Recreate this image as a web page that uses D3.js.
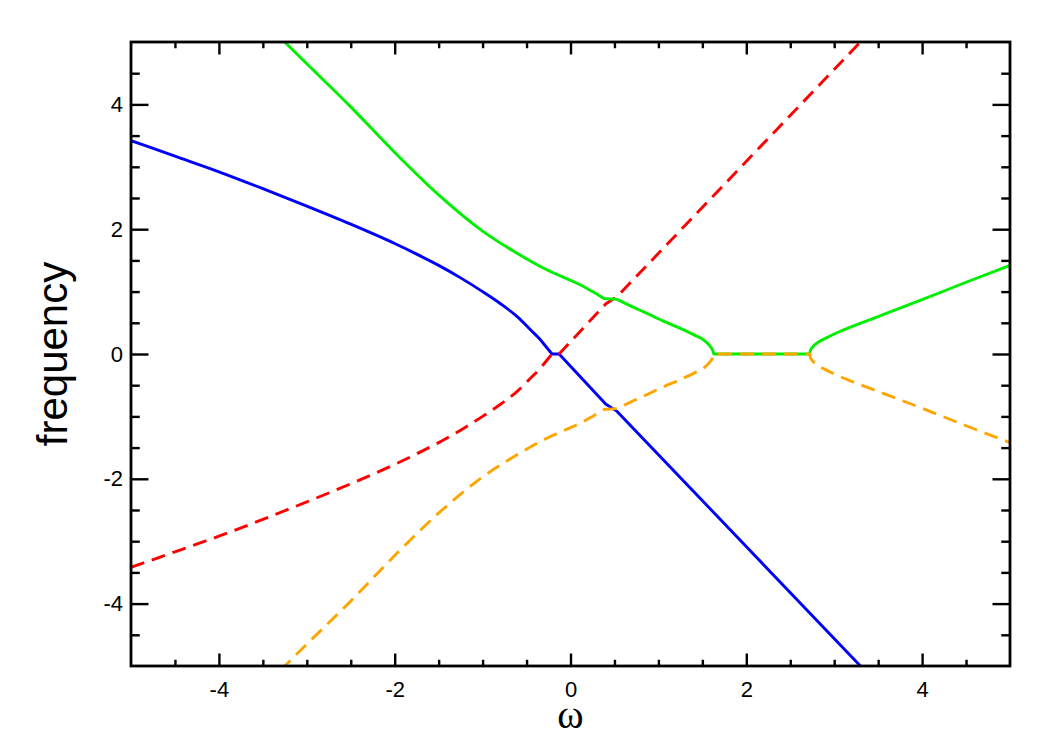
<!DOCTYPE html>
<html>
<head>
<meta charset="utf-8">
<script src="https://cdn.jsdelivr.net/npm/d3@7/dist/d3.min.js"></script>
<style>
	body { margin: 0; background: #fff; }
	text { font-family: "Liberation Sans", Arial, sans-serif; }
</style>
</head>
<body>
<div id="chart"></div>
<script>
// values
var majorTicks = [-4, -2, 0, 2, 4];
var minorTicks = [-4.5, -3.5, -3, -2.5, -1.5, -1, -0.5, 0.5, 1, 1.5, 2.5, 3, 3.5, 4.5];

var blueOmega = [-5.0, -4.5, -4.0, -3.5, -3.0, -2.5, -2.0, -1.75, -1.5, -1.25, -1.0, -0.8, -0.6, -0.45, -0.35, -0.28, -0.21, -0.13, 0.40, 0.53, 3.40];
var blueFreq = [3.42, 3.17, 2.92, 2.65, 2.37, 2.08, 1.77, 1.60, 1.42, 1.22, 1.00, 0.81, 0.59, 0.38, 0.24, 0.12, 0.0, 0.0, -0.80, -0.92, -5.15];

var redOmega = [-5.0, -4.5, -4.0, -3.5, -3.0, -2.5, -2.0, -1.75, -1.5, -1.25, -1.0, -0.8, -0.6, -0.45, -0.35, -0.28, -0.21, -0.13, 0.40, 0.53, 3.40];
var redFreq = [-3.42, -3.17, -2.92, -2.65, -2.37, -2.08, -1.77, -1.60, -1.42, -1.22, -1.00, -0.81, -0.59, -0.38, -0.24, -0.12, 0.0, 0.0, 0.80, 0.92, 5.15];

var greenOmega = [-3.30, -3.0, -2.5, -2.0, -1.5, -1.0, -0.65, -0.27, 0.0, 0.11, 0.25, 0.38, 0.53, 0.7, 0.87, 1.05, 1.25, 1.4, 1.52, 1.59, 1.62, 1.63, 2.72, 2.73, 2.76, 2.82, 2.9, 3.0, 3.2, 3.5, 4.0, 4.5, 5.0];
var greenFreq = [5.07, 4.65, 3.96, 3.23, 2.55, 1.97, 1.65, 1.35, 1.18, 1.11, 1.00, 0.89, 0.875, 0.76, 0.65, 0.53, 0.41, 0.31, 0.22, 0.12, 0.05, 0.0, 0.0, 0.06, 0.12, 0.19, 0.25, 0.32, 0.44, 0.60, 0.87, 1.15, 1.42];

var orangeOmega = [-3.30, -3.0, -2.5, -2.0, -1.5, -1.0, -0.65, -0.27, 0.0, 0.11, 0.25, 0.38, 0.53, 0.7, 0.87, 1.05, 1.25, 1.4, 1.52, 1.59, 1.62, 1.63, 2.72, 2.73, 2.76, 2.82, 2.9, 3.0, 3.2, 3.5, 4.0, 4.5, 5.0];
var orangeFreq = [-5.07, -4.65, -3.96, -3.23, -2.55, -1.97, -1.65, -1.35, -1.18, -1.11, -1.00, -0.89, -0.875, -0.76, -0.65, -0.53, -0.41, -0.31, -0.22, -0.12, -0.05, 0.0, 0.0, -0.06, -0.12, -0.19, -0.25, -0.32, -0.44, -0.60, -0.87, -1.15, -1.42];

// omega values where a curve has a corner (kinks at crossings, ends of the flat parts)
var blueKinks = [-0.21, -0.13, 0.40, 0.53];
var greenKinks = [0.38, 0.53, 1.63, 2.72];

var series = [
	{ omega: blueOmega, freq: blueFreq, kinks: blueKinks, color: "#0000ff", dash: null },
	{ omega: redOmega, freq: redFreq, kinks: blueKinks, color: "#ff0000", dash: "14,8" },
	{ omega: greenOmega, freq: greenFreq, kinks: greenKinks, color: "#00ef00", dash: null },
	{ omega: orangeOmega, freq: orangeFreq, kinks: greenKinks, color: "#ffa500", dash: "14,8" }
];

var W = 1050, H = 750,
	plotLeft = 131, plotRight = 1010, plotTop = 42, plotBottom = 666;

var x = d3.scaleLinear().domain([-5, 5]).range([plotLeft, plotRight]);
var y = d3.scaleLinear().domain([-5, 5]).range([plotBottom, plotTop]);

var svg = d3.select("#chart").append("svg")
	.attr("width", W)
	.attr("height", H);

svg.append("clipPath").attr("id", "clip")
	.append("rect")
	.attr("x", plotLeft).attr("y", plotTop)
	.attr("width", plotRight - plotLeft).attr("height", plotBottom - plotTop);

var line = d3.line()
	.x(d => x(d[0]))
	.y(d => y(d[1]))
	.curve(d3.curveMonotoneX);

// smooth between kinks, sharp corners at them
function kinkedPath(s) {
	var pts = s.omega.map((o, i) => [o, s.freq[i]]);
	var segs = [], cur = [];
	pts.forEach(function(p) {
		cur.push(p);
		if (s.kinks.indexOf(p[0]) >= 0 && cur.length > 1) {
			segs.push(cur);
			cur = [p];
		}
	});
	if (cur.length > 1) segs.push(cur);
	return segs.map(function(seg, i) {
		var d = line(seg);
		return i ? d.replace(/^M[^CLZ]*/, "") : d;
	}).join("");
}

var lines = svg.append("g").attr("clip-path", "url(#clip)");
series.forEach(function(s) {
	lines.append("path")
		.attr("d", kinkedPath(s))
		.attr("fill", "none")
		.attr("stroke", s.color)
		.attr("stroke-width", 2.9)
		.attr("stroke-dasharray", s.dash)
		.attr("stroke-linejoin", "round");
});

// axes: ticks point inward on all four sides
function styleAxis(g) {
	g.select(".domain").remove();
	g.attr("font-size", null).attr("font-family", null);
	g.selectAll(".tick line").attr("stroke", "#000").attr("stroke-width", 2.4);
	g.selectAll(".tick text").style("font-size", "22px").attr("fill", "#000");
}

var xLen = 12.5, yLen = 17.5;
var fmt = d => String(d);

svg.append("g").attr("transform", `translate(0,${plotBottom})`)
	.call(d3.axisBottom(x).tickValues(majorTicks).tickSizeInner(-xLen).tickSizeOuter(0).tickPadding(15).tickFormat(fmt))
	.call(styleAxis);
svg.append("g").attr("transform", `translate(0,${plotBottom})`)
	.call(d3.axisBottom(x).tickValues(minorTicks).tickSizeInner(-xLen / 2).tickSizeOuter(0).tickFormat(""))
	.call(styleAxis);
svg.append("g").attr("transform", `translate(0,${plotTop})`)
	.call(d3.axisTop(x).tickValues(majorTicks).tickSizeInner(-xLen).tickSizeOuter(0).tickFormat(""))
	.call(styleAxis);
svg.append("g").attr("transform", `translate(0,${plotTop})`)
	.call(d3.axisTop(x).tickValues(minorTicks).tickSizeInner(-xLen / 2).tickSizeOuter(0).tickFormat(""))
	.call(styleAxis);

svg.append("g").attr("transform", `translate(${plotLeft},0)`)
	.call(d3.axisLeft(y).tickValues(majorTicks).tickSizeInner(-yLen).tickSizeOuter(0).tickPadding(8).tickFormat(fmt))
	.call(styleAxis);
svg.append("g").attr("transform", `translate(${plotLeft},0)`)
	.call(d3.axisLeft(y).tickValues(minorTicks).tickSizeInner(-yLen / 2).tickSizeOuter(0).tickFormat(""))
	.call(styleAxis);
svg.append("g").attr("transform", `translate(${plotRight},0)`)
	.call(d3.axisRight(y).tickValues(majorTicks).tickSizeInner(-yLen).tickSizeOuter(0).tickFormat(""))
	.call(styleAxis);
svg.append("g").attr("transform", `translate(${plotRight},0)`)
	.call(d3.axisRight(y).tickValues(minorTicks).tickSizeInner(-yLen / 2).tickSizeOuter(0).tickFormat(""))
	.call(styleAxis);

svg.append("rect")
	.attr("x", plotLeft).attr("y", plotTop)
	.attr("width", plotRight - plotLeft).attr("height", plotBottom - plotTop)
	.attr("fill", "none")
	.attr("stroke", "#000")
	.attr("stroke-width", 2.8);

svg.append("text")
	.attr("x", x(0))
	.attr("y", 728)
	.attr("text-anchor", "middle")
	.style("font-size", "40px")
	.style("font-family", '"Liberation Serif", "DejaVu Serif", serif')
	.text("ω");

svg.append("text")
	.attr("transform", `translate(67,${(plotTop + plotBottom) / 2}) rotate(-90)`)
	.attr("text-anchor", "middle")
	.style("font-size", "42px")
	.text("frequency");
</script>
</body>
</html>
